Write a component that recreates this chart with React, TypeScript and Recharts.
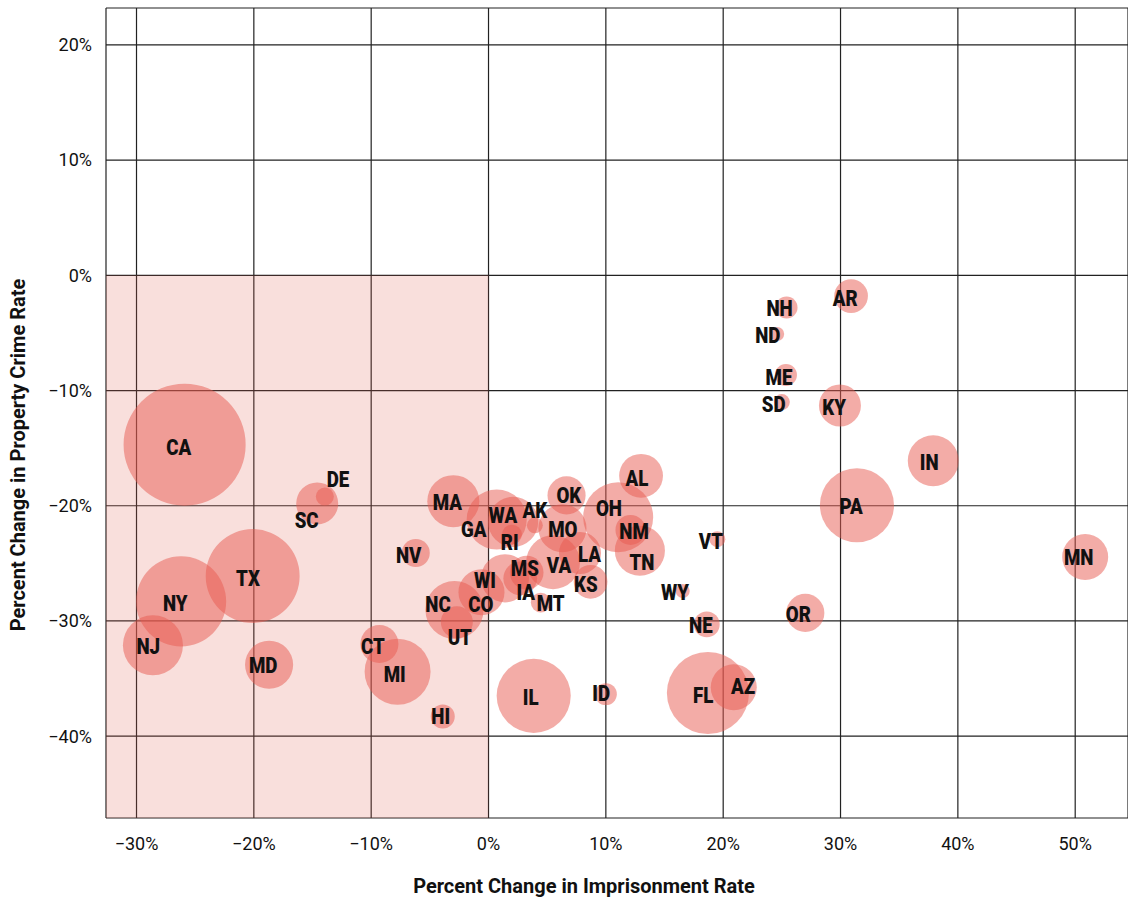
import React from 'react';
import { ScatterChart, Scatter, XAxis, YAxis, ZAxis, CartesianGrid, ReferenceArea } from 'recharts';

// State codes
const states = [
  'CA', 'DE', 'SC', 'TX', 'NY', 'NJ', 'MD', 'CT', 'MI', 'HI',
  'NV', 'MA', 'GA', 'WA', 'AK', 'RI', 'MO', 'OK', 'OH', 'AL',
  'NM', 'TN', 'LA', 'VA', 'MS', 'IA', 'WI', 'KS', 'MT', 'NC',
  'CO', 'UT', 'IL', 'ID', 'FL', 'AZ', 'NE', 'WY', 'VT', 'OR',
  'PA', 'MN', 'IN', 'KY', 'SD', 'ME', 'ND', 'NH', 'AR',
];

// Percent change in imprisonment rate (x)
const imprisonmentChange = [
  -25.9, -13.95, -14.6, -20.1, -26.2, -28.6, -18.7, -9.3, -7.75, -3.9,
  -6.2, -3.0, 0.7, 2.1, 3.95, 2.0, 6.3, 6.65, 11.05, 13.0,
  12.1, 12.9, 7.8, 5.5, 3.25, 2.7, 1.4, 8.7, 4.45, -2.9,
  -0.6, -2.7, 3.85, 10.0, 18.7, 20.9, 18.6, 16.55, 19.5, 27.0,
  31.4, 50.85, 37.9, 29.95, 25.0, 25.35, 24.6, 25.4, 30.9,
];

// Percent change in property crime rate (y)
const crimeChange = [
  -14.7, -19.2, -19.8, -26.1, -28.3, -32.1, -33.8, -32.0, -34.4, -38.3,
  -24.1, -19.6, -21.2, -21.4, -21.7, -22.5, -21.95, -19.1, -21.0, -17.4,
  -22.1, -23.9, -24.1, -24.9, -25.8, -26.3, -26.3, -26.6, -28.4, -29.05,
  -27.5, -30.1, -36.5, -36.35, -36.25, -35.75, -30.3, -27.4, -22.9, -29.3,
  -19.95, -24.45, -16.1, -11.3, -11.0, -8.65, -5.1, -2.8, -1.8,
];

// Population (millions) – bubble size
const population = [
  38.0, 0.83, 4.5, 22.5, 20.7, 9.2, 5.9, 3.7, 11.1, 1.47,
  2.0, 6.9, 9.2, 6.4, 0.65, 1.0, 5.9, 3.7, 12.5, 4.9,
  2.3, 6.4, 4.5, 7.4, 2.9, 2.9, 5.9, 2.9, 1.0, 8.6,
  5.4, 2.6, 14.0, 1.23, 17.2, 5.4, 1.7, 0.5, 0.65, 3.7,
  14.0, 5.4, 6.6, 4.5, 0.65, 1.23, 0.5, 1.23, 2.9,
];

// Label anchor positions (in chart units)
const labelX = [
  -26.4, -12.83, -15.5, -20.5, -26.7, -29.0, -19.2, -9.86, -8.0, -4.07,
  -6.8, -3.5, -1.25, 1.22, 3.95, 1.8, 6.33, 6.85, 10.26, 12.64,
  12.4, 13.07, 8.6, 6.0, 3.1, 3.18, -0.3, 8.3, 5.3, -4.3,
  -0.66, -2.45, 3.6, 9.6, 18.3, 21.7, 18.1, 15.9, 18.95, 26.4,
  30.9, 50.3, 37.55, 29.45, 24.3, 24.75, 23.8, 24.8, 30.4,
];
const labelY = [
  -14.9, -17.7, -21.25, -26.3, -28.45, -32.2, -33.9, -32.2, -34.6, -38.3,
  -24.3, -19.7, -22.1, -20.85, -20.4, -23.15, -22.1, -19.1, -20.2, -17.6,
  -22.2, -24.9, -24.2, -25.15, -25.4, -27.5, -26.45, -26.8, -28.5, -28.6,
  -28.6, -31.4, -36.6, -36.3, -36.5, -35.7, -30.35, -27.5, -23.1, -29.4,
  -20.1, -24.5, -16.2, -11.45, -11.2, -8.85, -5.2, -2.86, -2.0,
];

const xTicks = [-30, -20, -10, 0, 10, 20, 30, 40, 50];
const yTicks = [-40, -30, -20, -10, 0, 10, 20];
const xDomain = [-32.6, 54.5];
const yDomain = [-47.1, 23.2];

const bubbles = states.map((s, i) => ({
  state: s,
  x: imprisonmentChange[i],
  y: crimeChange[i],
  z: population[i],
}));
const labels = states.map((s, i) => ({ state: s, x: labelX[i], y: labelY[i] }));

const fmt = (v: number) => (v < 0 ? `\u2212${-v}%` : `${v}%`);
const FONT = 'Roboto, "Noto Sans", Arial, sans-serif';

const LabelShape = (props: any) => {
  const { cx, cy, payload } = props;
  return (
    <text
      transform={`translate(${cx},${cy}) scale(0.85,1)`}
      x={0}
      y={0}
      textAnchor="middle"
      dominantBaseline="central"
      fontFamily={FONT}
      fontWeight={900}
      fontSize={22}
      fill="#111"
    >
      {payload.state}
    </text>
  );
};

const titleStyle: React.CSSProperties = {
  position: 'absolute',
  fontFamily: FONT,
  fontWeight: 'bold',
  fontSize: 20,
  color: '#111',
  whiteSpace: 'nowrap',
  lineHeight: 1,
};

export default function App() {
  return (
    <div style={{ position: 'absolute', left: 0, top: 0, width: 1128, height: 903, background: '#fff' }}>
      <ScatterChart width={1128} height={903} margin={{ top: 8, right: 0, bottom: 0, left: 0 }}>
        <CartesianGrid stroke="#222" strokeWidth={1.2} />
        <ReferenceArea x1={xDomain[0]} x2={0} y1={yDomain[0]} y2={0} fill="#e35d52" fillOpacity={0.2} stroke="none" />
        <XAxis
          type="number"
          dataKey="x"
          domain={xDomain}
          ticks={xTicks}
          allowDataOverflow
          axisLine={false}
          tickLine={false}
          tickSize={6}
          tickMargin={13}
          height={85}
          tickFormatter={fmt}
          tick={{ fontFamily: FONT, fontSize: 18, fill: '#111' }}
        />
        <YAxis
          type="number"
          dataKey="y"
          domain={yDomain}
          ticks={yTicks}
          allowDataOverflow
          axisLine={false}
          tickLine={false}
          tickSize={6}
          tickMargin={8}
          width={106}
          tickFormatter={fmt}
          tick={{ fontFamily: FONT, fontSize: 18, fill: '#111' }}
        />
        <ZAxis type="number" dataKey="z" domain={[0, 40]} range={[0, Math.PI * 9.9 * 9.9 * 40]} />
        <Scatter data={bubbles} fill="#e85a50" fillOpacity={0.5} isAnimationActive={false} />
        <Scatter data={labels} shape={LabelShape} isAnimationActive={false} />
      </ScatterChart>
      <div style={{ ...titleStyle, left: 584, top: 886, transform: 'translate(-50%, -50%)' }}>
        Percent Change in Imprisonment Rate
      </div>
      <div style={{ ...titleStyle, left: 18, top: 455, transform: 'translate(-50%, -50%) rotate(-90deg)' }}>
        Percent Change in Property Crime Rate
      </div>
    </div>
  );
}
